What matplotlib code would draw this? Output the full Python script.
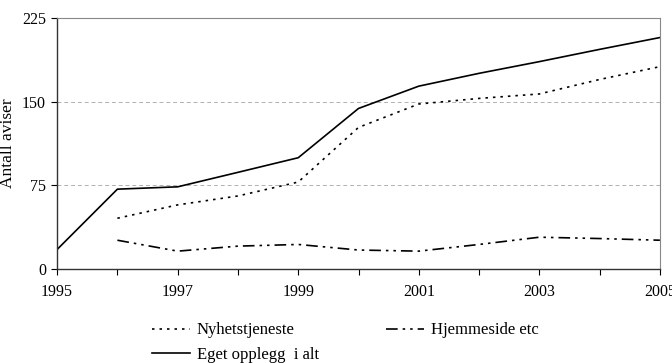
import numpy as np
import matplotlib.pyplot as plt

plt.rcParams['font.family'] = ['Liberation Serif', 'DejaVu Serif']

# data
years_all = [1995, 1996, 1997, 1998, 1999, 2000, 2001, 2002, 2003, 2004, 2005]
years_sub = [1996, 1997, 1998, 1999, 2000, 2001, 2002, 2003, 2004, 2005]

nyhet = [45.5, 57.5, 65.5, 78, 127, 148, 153, 157, 170, 181.5]
hjemme = [25.8, 16, 20.5, 22, 17, 16, 22, 28.5, 27.3, 25.8]
eget = [17.5, 71.6, 73.7, 86.7, 99.8, 144, 164, 175.5, 186, 197, 207.6]

fig = plt.figure(figsize=(6.72, 3.63), dpi=100)
ax = fig.add_axes([0.085, 0.259, 0.897, 0.691])

l1, = ax.plot(years_sub, nyhet, color='black', lw=1.2, linestyle=(0, (1.5, 3)), label='Nyhetstjeneste')
l2, = ax.plot(years_sub, hjemme, color='black', lw=1.2, linestyle=(0, (7, 3, 1.5, 3, 1.5, 3)), label='Hjemmeside etc')
l3, = ax.plot(years_all, eget, color='black', lw=1.2, label='Eget opplegg  i alt')

ax.set_xlim(1995, 2005)
ax.set_ylim(0, 225)
ax.set_xticks(np.arange(1995, 2006, 1))
ax.set_xticklabels([str(y) if y % 2 == 1 else '' for y in range(1995, 2006)])
ax.set_yticks([0, 75, 150, 225])
ax.tick_params(axis='both', labelsize=11.5, direction='out', length=4, width=0.8, pad=4)
ax.tick_params(axis='x', pad=7)
ax.yaxis.grid(True, linestyle=(0, (4, 3)), color='#b0b0b0', lw=0.7)
ax.set_axisbelow(True)

for s in ['left', 'bottom']:
    ax.spines[s].set_color('#333333')
    ax.spines[s].set_linewidth(1.0)
for s in ['top', 'right']:
    ax.spines[s].set_color('#888888')
    ax.spines[s].set_linewidth(0.8)

ax.set_ylabel('Antall aviser', fontsize=12.5, labelpad=4)

# legend fills column by column, so order gives rows: Nyhet | Hjemme, Eget
handles = [l1, l3, l2]
leg = fig.legend(handles, [h.get_label() for h in handles],
                 loc='upper left', bbox_to_anchor=(0.226, 0.112), ncol=2, frameon=False,
                 fontsize=12, handlelength=2.3, handletextpad=0.4, columnspacing=4.0,
                 labelspacing=0.5, borderaxespad=0, borderpad=0)

fig.savefig('out.png', dpi=100)
